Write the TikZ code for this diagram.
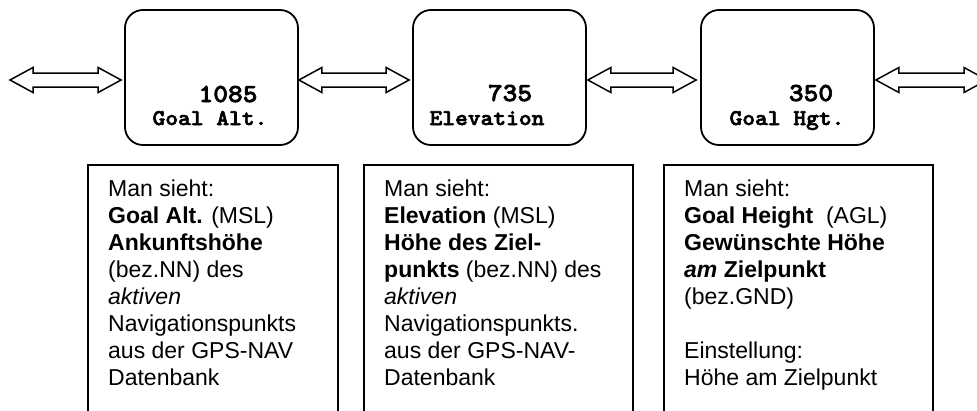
\documentclass[tikz,border=0pt]{standalone}
\usepackage{fontspec}
\setsansfont{Liberation Sans}
\newfontfamily\valfont{lmmonolt10-bold.otf}[FakeBold=2.5, FakeStretch=1.08]
\usetikzlibrary{calc}

\tikzset{
  valbox/.style={draw, line width=1.8pt, rounded corners=18pt,
    minimum width=173pt, minimum height=135pt, inner sep=0pt},
  numtext/.style={font=\valfont\fontsize{26}{26}\selectfont,
    anchor=base, inner sep=0pt},
  labtext/.style={font=\valfont\fontsize{22.5}{22.5}\selectfont,
    anchor=base, inner sep=0pt},
  infobox/.style={draw, line width=1.6pt, minimum height=270pt,
    anchor=north west, inner sep=0pt},
  infotext/.style={font=\sffamily\fontsize{23}{27}\selectfont,
    align=left, anchor=north west, inner sep=0pt},
  linkarrow/.style={draw, line width=1.5pt, line join=miter, fill=white},
}

% hollow double-headed block arrow between two points
\newcommand\twoway[2]{%
  \draw[linkarrow] (#1) -- ++(23,-12.5) -- ++(0,5.5)
    -- ($(#2)+(-23,-7)$) -- ++(0,-5.5) -- (#2) -- ++(-23,12.5)
    -- ++(0,-5.5) -- ($(#1)+(23,7)$) -- ++(0,5.5) -- cycle;}

\begin{document}
\begin{tikzpicture}[x=1pt, y=-1pt]
  \fill[white] (0,0) rectangle (977,410);
  \useasboundingbox (0,0) rectangle (977,410);
  \clip (0,0) rectangle (977,410);

  % display boxes
  \node[valbox] (b1) at (211.5,77.5) {};
  \node[valbox] (b2) at (499.5,77.5) {};
  \node[valbox] (b3) at (787.5,77.5) {};

  \node[numtext] (n1) at (228,102) {1085};
  \node[labtext] (l1) at (210,125) {Goal Alt.};
  \node[numtext] (n2) at (510,101) {735};
  \node[labtext] (l2) at (487,125) {Elevation};
  \node[numtext] (n3) at (811,101) {350};
  \node[labtext] (l3) at (787,125) {Goal Hgt.};

  % arrow end points
  \coordinate (lfree) at (10,80);
  \coordinate (rfree) at (987,80);
  \path ($(b1.west)+(-3,2.5)$) coordinate (b1w)
        ($(b1.east)+(0,2.5)$)  coordinate (b1e)
        ($(b2.west)+(-3,2.5)$) coordinate (b2w)
        ($(b2.east)+(1,2.5)$)  coordinate (b2e)
        ($(b3.west)+(-4,2.5)$) coordinate (b3w)
        ($(b3.east)+(1,2.5)$)  coordinate (b3e);

  \twoway{lfree}{b1w}
  \twoway{b1e}{b2w}
  \twoway{b2e}{b3w}
  \twoway{b3e}{rfree}

  % description boxes
  \node[infobox, minimum width=250pt] (iA) at (87,164) {};
  \node[infobox, minimum width=269pt] (iB) at (363,164) {};
  \node[infobox, minimum width=269pt] (iC) at (663,164) {};

  \node[infotext] (tA) at (108,180) {Man sieht:\\
    \textbf{Goal Alt.} (MSL)\\
    \textbf{Ankunftshöhe}\\
    (bez.NN) des\\
    \textit{aktiven}\\
    Navigationspunkts\\
    aus der GPS-NAV\\
    Datenbank};

  \node[infotext] (tB) at (384,180) {Man sieht:\\
    \textbf{Elevation} (MSL)\\
    \textbf{Höhe des Ziel-}\\
    \textbf{punkts} (bez.NN) des\\
    \textit{aktiven}\\
    Navigationspunkts.\\
    aus der GPS-NAV-\\
    Datenbank};

  \node[infotext] (tC) at (684,180) {Man sieht:\\
    \textbf{Goal Height}\ \ (AGL)\\
    \textbf{Gewünschte Höhe}\\
    \textbf{\textit{am} Zielpunkt}\\
    (bez.GND)\\[27pt]
    Einstellung:\\
    Höhe am Zielpunkt};
\end{tikzpicture}
\end{document}
